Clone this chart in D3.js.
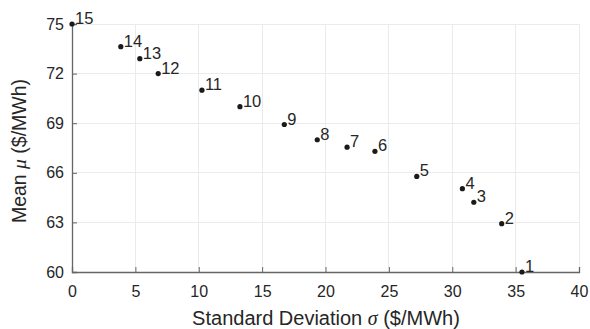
<!DOCTYPE html>
<html><head><meta charset="utf-8">
<script src="https://cdn.jsdelivr.net/npm/d3@7"></script>
<style>body{margin:0;background:#fff;}svg{display:block;font-family:"Liberation Sans",Arial,sans-serif;}</style>
</head><body>
<svg id="c" width="590" height="329"></svg>
<script>
const labels = ["1","2","3","4","5","6","7","8","9","10","11","12","13","14","15"];
const sigma = [35.5,33.9,31.7,30.8,27.2,23.9,21.7,19.35,16.75,13.25,10.25,6.8,5.35,3.85,0];
const mu = [60.0,62.92,64.22,65.04,65.78,67.3,67.55,68.0,68.92,70.0,71.0,72.0,72.9,73.63,75.0];
const xTicks = [0,5,10,15,20,25,30,35,40];
const yTicks = [60,63,66,69,72,75];

const svg = d3.select("#c");
const L=72, R=579, T=24, B=272;
const x = d3.scaleLinear().domain([0,40]).range([L,R]);
const y = d3.scaleLinear().domain([60,75]).range([B,T]);

// grid
svg.append("g").selectAll("line").data(xTicks).join("line")
  .attr("x1",d=>x(d)).attr("x2",d=>x(d)).attr("y1",T).attr("y2",B)
  .attr("stroke","#ebebeb").attr("stroke-width",1).attr("shape-rendering","crispEdges");
svg.append("g").selectAll("line").data(yTicks).join("line")
  .attr("x1",L).attr("x2",R).attr("y1",d=>y(d)).attr("y2",d=>y(d))
  .attr("stroke","#ebebeb").attr("stroke-width",1).attr("shape-rendering","crispEdges");

const xAxis = svg.append("g").attr("transform",`translate(0,${B})`)
  .call(d3.axisBottom(x).tickValues(xTicks).tickSize(-5).tickPadding(14).tickFormat(d3.format("d")));
const yAxis = svg.append("g").attr("transform",`translate(${L},0)`)
  .call(d3.axisLeft(y).tickValues(yTicks).tickSize(-5).tickPadding(8).tickFormat(d3.format("d")));
[xAxis,yAxis].forEach(a=>{
  a.select(".domain").attr("stroke","#666").attr("stroke-width",1.3);
  a.selectAll(".tick line").attr("stroke","#666").attr("stroke-width",1);
  a.selectAll("text").attr("fill","#262626").style("font-size","16px").style("font-family","'Liberation Sans',Arial,sans-serif");
});
xAxis.selectAll("text").attr("dy","0.71em");

// points
svg.append("g").selectAll("circle").data(sigma).join("circle")
  .attr("cx",(d)=>x(d)).attr("cy",(d,i)=>y(mu[i])).attr("r",2.6).attr("fill","#1a1a1a");
svg.append("g").selectAll("text").data(labels).join("text")
  .attr("x",(d,i)=>x(sigma[i])+3).attr("y",(d,i)=>y(mu[i]))
  .attr("fill","#262626").style("font-size","16.5px").text(d=>d);

// axis titles
const xt = svg.append("text").attr("x",326).attr("y",325).attr("text-anchor","middle")
  .attr("fill","#262626").style("font-size","20px");
xt.append("tspan").text("Standard Deviation ");
xt.append("tspan").text("σ").style("font-family","'Liberation Serif','Times New Roman',serif").style("font-style","italic");
xt.append("tspan").text(" ($/MWh)");

const yt = svg.append("text").attr("transform",`translate(26,151) rotate(-90)`).attr("text-anchor","middle")
  .attr("fill","#262626").style("font-size","19.5px");
yt.append("tspan").text("Mean ");
yt.append("tspan").text("μ").style("font-family","'Liberation Serif','Times New Roman',serif").style("font-style","italic");
yt.append("tspan").text(" ($/MWh)");
</script>
</body></html>
